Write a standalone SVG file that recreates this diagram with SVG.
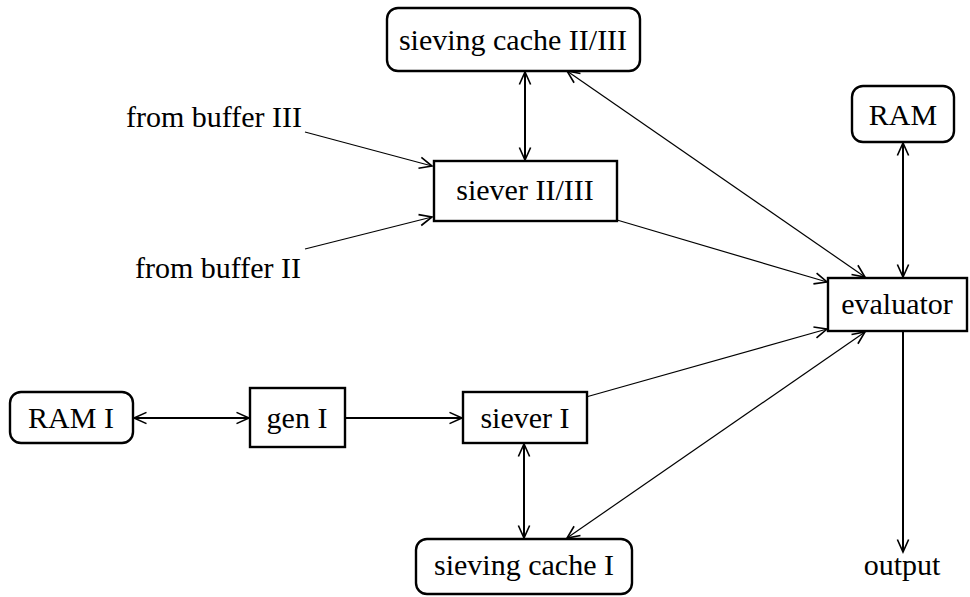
<svg xmlns="http://www.w3.org/2000/svg" width="970" height="597" viewBox="0 0 970 597">
<defs>
<marker id="ah" markerUnits="userSpaceOnUse" markerWidth="20" markerHeight="20" viewBox="-12 -8 14 16" refX="0" refY="0" orient="auto-start-reverse" overflow="visible">
<path d="M-10,-4.5 L0,0 L-10,4.5" fill="none" stroke="#000" stroke-width="1.3"/>
</marker>
</defs>
<style>
.box{fill:#fff;stroke:#000;stroke-width:2.4}
.t{font-family:"Liberation Serif","Times New Roman",serif;font-size:30px;fill:#000;text-anchor:middle}
.th{stroke:#000;stroke-width:2;fill:none}
.tn{stroke:#000;stroke-width:1.2;fill:none}
</style>
<rect width="970" height="597" fill="#fff"/>
<g id="connectors">
<line class="th" x1="525" y1="72" x2="525" y2="160" marker-start="url(#ah)" marker-end="url(#ah)"/>
<line class="tn" x1="305" y1="132" x2="432" y2="166" marker-end="url(#ah)"/>
<line class="tn" x1="305" y1="249" x2="432" y2="217" marker-end="url(#ah)"/>
<line class="tn" x1="617" y1="220" x2="827" y2="282" marker-end="url(#ah)"/>
<line class="tn" x1="567" y1="71" x2="865" y2="277" marker-start="url(#ah)" marker-end="url(#ah)"/>
<line class="th" x1="903" y1="143" x2="903" y2="277" marker-start="url(#ah)" marker-end="url(#ah)"/>
<line class="th" x1="903" y1="332" x2="903" y2="552" marker-end="url(#ah)"/>
<line class="th" x1="134" y1="418" x2="249" y2="418" marker-start="url(#ah)" marker-end="url(#ah)"/>
<line class="th" x1="346" y1="418" x2="462" y2="418" marker-end="url(#ah)"/>
<line class="tn" x1="586" y1="397" x2="827" y2="329" marker-end="url(#ah)"/>
<line class="th" x1="524" y1="444" x2="524" y2="538" marker-start="url(#ah)" marker-end="url(#ah)"/>
<line class="tn" x1="865" y1="332" x2="567" y2="538" marker-start="url(#ah)" marker-end="url(#ah)"/>
</g>
<g id="sieving-cache-2-3">
<rect class="box" x="387" y="8" width="253" height="63" rx="11"/>
<text class="t" x="513" y="50">sieving cache II/III</text>
</g>
<g id="from-buffer-3">
<text class="t" x="214" y="127">from buffer III</text>
</g>
<g id="from-buffer-2">
<text class="t" x="218" y="278">from buffer II</text>
</g>
<g id="siever-2-3">
<rect class="box" x="434" y="161" width="183" height="60"/>
<text class="t" x="525" y="200">siever II/III</text>
</g>
<g id="ram">
<rect class="box" x="852" y="86" width="102" height="56" rx="11"/>
<text class="t" x="903" y="125">RAM</text>
</g>
<g id="evaluator">
<rect class="box" x="828" y="278" width="139" height="53"/>
<text class="t" x="897" y="314">evaluator</text>
</g>
<g id="ram-1">
<rect class="box" x="10" y="392" width="123" height="51" rx="11"/>
<text class="t" x="71" y="428">RAM I</text>
</g>
<g id="gen-1">
<rect class="box" x="250" y="388" width="95" height="59"/>
<text class="t" x="297" y="428">gen I</text>
</g>
<g id="siever-1">
<rect class="box" x="463" y="392" width="124" height="51"/>
<text class="t" x="525" y="428">siever I</text>
</g>
<g id="sieving-cache-1">
<rect class="box" x="416" y="539" width="216" height="55" rx="11"/>
<text class="t" x="524" y="575">sieving cache I</text>
</g>
<g id="output">
<text class="t" x="902" y="575">output</text>
</g>
</svg>
